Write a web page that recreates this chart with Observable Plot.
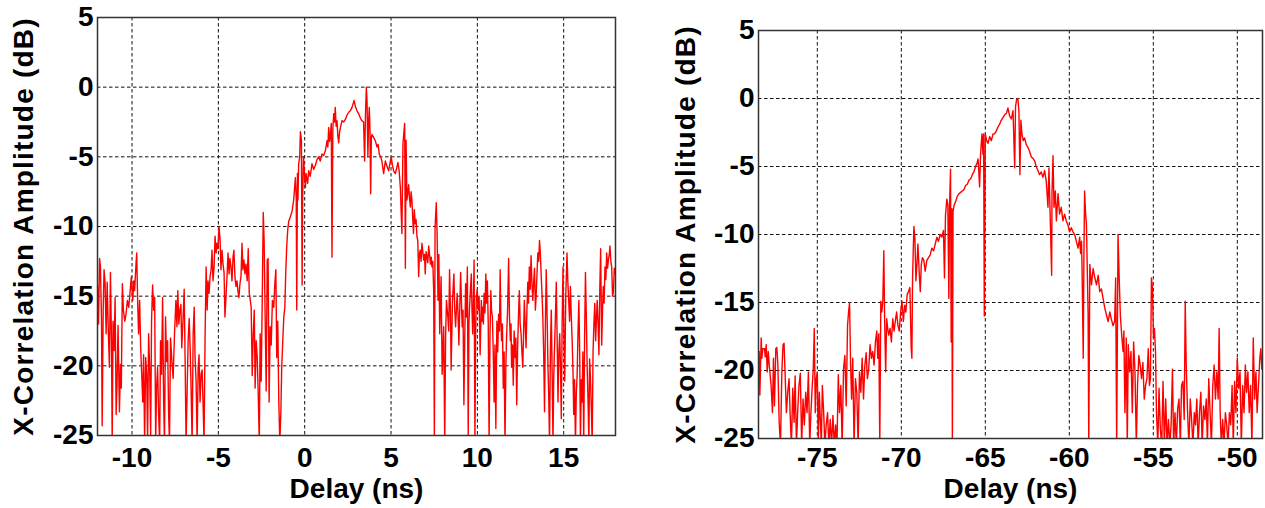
<!DOCTYPE html>
<html>
<head>
<meta charset="utf-8">
<script src="https://cdn.jsdelivr.net/npm/d3@7"></script>
<script src="https://cdn.jsdelivr.net/npm/@observablehq/plot@0.6"></script>
<style>
  html, body { margin: 0; padding: 0; background: #fff; }
  #wrap { position: relative; width: 1265px; height: 508px; overflow: hidden; }
  #left, #right { position: absolute; top: 0; }
  #left { left: 0; }
  #right { left: 632px; }
</style>
</head>
<body>
<div id="wrap"><div id="left"></div><div id="right"></div></div>
<script>
// ---------- data ----------
const yTicks = [-25, -20, -15, -10, -5, 0, 5];
const leftTicks = [-10, -5, 0, 5, 10, 15];
const rightTicks = [-75, -70, -65, -60, -55, -50];

const leftDelay = [-12.0,-11.94,-11.88,-11.83,-11.77,-11.73,-11.67,-11.62,-11.56,-11.5,-11.44,-11.38,-11.31,-11.25,-11.19,-11.15,-11.1,-11.04,-10.98,-10.92,-10.87,-10.81,-10.73,-10.67,-10.62,-10.56,-10.5,-10.42,-10.35,-10.27,-10.19,-10.12,-10.04,-9.96,-9.9,-9.85,-9.77,-9.73,-9.67,-9.62,-9.56,-9.5,-9.44,-9.38,-9.33,-9.27,-9.21,-9.15,-9.1,-9.04,-8.98,-8.92,-8.87,-8.81,-8.75,-8.69,-8.63,-8.58,-8.52,-8.46,-8.4,-8.35,-8.29,-8.23,-8.17,-8.12,-8.06,-8.0,-7.94,-7.88,-7.83,-7.77,-7.69,-7.62,-7.54,-7.46,-7.4,-7.35,-7.29,-7.23,-7.17,-7.12,-7.04,-6.98,-6.92,-6.87,-6.81,-6.75,-6.69,-6.63,-6.58,-6.52,-6.46,-6.4,-6.35,-6.29,-6.23,-6.17,-6.12,-6.06,-6.0,-5.94,-5.88,-5.83,-5.77,-5.71,-5.65,-5.6,-5.54,-5.48,-5.42,-5.37,-5.31,-5.25,-5.19,-5.13,-5.08,-5.02,-4.96,-4.9,-4.85,-4.79,-4.73,-4.67,-4.62,-4.56,-4.5,-4.44,-4.38,-4.33,-4.27,-4.21,-4.15,-4.1,-4.04,-3.98,-3.92,-3.87,-3.81,-3.75,-3.69,-3.63,-3.58,-3.52,-3.46,-3.4,-3.33,-3.27,-3.21,-3.15,-3.1,-3.04,-2.98,-2.92,-2.87,-2.81,-2.75,-2.69,-2.63,-2.58,-2.52,-2.46,-2.4,-2.35,-2.29,-2.23,-2.17,-2.12,-2.06,-2.0,-1.94,-1.87,-1.79,-1.73,-1.67,-1.62,-1.56,-1.5,-1.44,-1.38,-1.33,-1.27,-1.21,-1.15,-1.1,-1.04,-0.98,-0.92,-0.83,-0.73,-0.64,-0.54,-0.49,-0.46,-0.42,-0.39,-0.35,-0.29,-0.25,-0.19,-0.15,-0.12,-0.07,0.0,0.04,0.08,0.17,0.23,0.32,0.42,0.52,0.62,0.71,0.81,0.9,1.0,1.1,1.2,1.29,1.34,1.39,1.44,1.49,1.54,1.58,1.63,1.68,1.73,1.77,1.82,1.87,1.92,1.97,2.02,2.07,2.16,2.26,2.36,2.45,2.55,2.64,2.74,2.8,2.86,2.94,3.03,3.12,3.22,3.31,3.41,3.47,3.52,3.57,3.61,3.66,3.7,3.74,3.78,3.82,3.86,3.9,3.99,4.09,4.19,4.25,4.32,4.4,4.47,4.57,4.67,4.77,4.86,4.93,5.01,5.08,5.15,5.25,5.33,5.4,5.47,5.54,5.59,5.63,5.69,5.74,5.79,5.83,5.87,5.92,5.97,6.02,6.07,6.12,6.16,6.21,6.26,6.3,6.35,6.4,6.45,6.5,6.55,6.6,6.64,6.69,6.74,6.79,6.84,6.89,6.94,6.98,7.03,7.08,7.13,7.18,7.23,7.28,7.33,7.37,7.42,7.47,7.51,7.55,7.62,7.67,7.72,7.77,7.82,7.9,7.96,8.05,8.11,8.16,8.21,8.29,8.34,8.39,8.44,8.48,8.56,8.64,8.69,8.74,8.83,8.88,8.93,9.03,9.08,9.12,9.17,9.22,9.27,9.32,9.37,9.42,9.47,9.51,9.55,9.6,9.65,9.69,9.73,9.77,9.81,9.86,9.9,9.94,9.99,10.04,10.1,10.16,10.23,10.27,10.31,10.35,10.39,10.44,10.49,10.53,10.58,10.63,10.68,10.73,10.78,10.82,10.87,10.92,10.97,11.02,11.07,11.13,11.18,11.23,11.28,11.32,11.36,11.4,11.45,11.5,11.55,11.6,11.65,11.69,11.75,11.81,11.86,11.91,11.95,11.98,12.03,12.08,12.13,12.18,12.23,12.28,12.33,12.38,12.43,12.48,12.53,12.58,12.63,12.68,12.72,12.77,12.82,12.87,12.92,12.96,13.01,13.06,13.11,13.16,13.21,13.26,13.31,13.36,13.4,13.45,13.5,13.55,13.6,13.65,13.7,13.75,13.79,13.84,13.89,13.94,13.99,14.04,14.09,14.13,14.18,14.23,14.28,14.33,14.38,14.42,14.47,14.52,14.57,14.62,14.67,14.72,14.77,14.82,14.86,14.91,14.96,15.01,15.06,15.12,15.19,15.24,15.29,15.34,15.39,15.44,15.49,15.54,15.58,15.63,15.68,15.73,15.78,15.83,15.88,15.93,15.97,16.02,16.07,16.11,16.16,16.21,16.26,16.31,16.36,16.41,16.46,16.5,16.55,16.6,16.65,16.7,16.75,16.8,16.85,16.9,16.94,16.99,17.04,17.09,17.14,17.2,17.25,17.29,17.34,17.39,17.44,17.49,17.54,17.59,17.64,17.68,17.73,17.78,17.83,17.88,17.93,17.98];
const leftAmp = [-14.2,-17.0,-12.3,-12.9,-16.5,-24.3,-16.0,-13.1,-14.1,-17.7,-14.0,-17.2,-20.1,-13.3,-18.2,-25.5,-16.8,-18.9,-15.1,-23.5,-21.4,-17.1,-23.3,-19.9,-21.6,-14.1,-16.0,-16.8,-16.3,-15.3,-15.8,-14.8,-13.6,-15.3,-13.9,-14.6,-12.7,-11.9,-15.6,-17.7,-15.3,-18.7,-20.6,-22.6,-19.2,-25.5,-19.4,-20.6,-25.5,-17.7,-20.1,-25.0,-16.8,-14.2,-16.0,-15.1,-25.5,-21.6,-20.1,-23.5,-25.5,-18.2,-20.6,-15.1,-22.6,-25.5,-16.5,-19.7,-18.2,-23.5,-25.5,-18.0,-19.7,-20.9,-17.7,-15.3,-17.2,-14.6,-17.0,-16.0,-15.6,-18.7,-16.5,-14.5,-20.1,-25.5,-21.8,-18.2,-16.6,-18.9,-21.6,-25.5,-17.7,-15.8,-19.4,-21.1,-25.5,-20.1,-19.2,-22.6,-20.6,-20.3,-23.0,-25.5,-18.0,-12.9,-16.0,-13.9,-14.8,-13.6,-13.1,-11.7,-13.9,-12.9,-10.7,-11.9,-11.2,-11.6,-10.0,-11.0,-13.1,-11.7,-12.7,-13.3,-16.5,-15.1,-13.6,-11.9,-13.4,-12.3,-12.9,-13.9,-12.2,-11.7,-13.6,-14.3,-13.9,-14.6,-15.1,-14.1,-13.6,-11.2,-13.1,-12.4,-13.4,-12.7,-13.9,-11.6,-14.8,-15.3,-15.8,-20.7,-17.7,-16.0,-21.6,-18.2,-19.4,-22.1,-25.5,-17.7,-21.1,-15.3,-9.0,-11.0,-16.5,-21.8,-12.4,-12.3,-22.6,-17.2,-18.5,-15.3,-15.8,-14.1,-13.1,-19.4,-16.8,-22.6,-25.5,-23.3,-20.1,-18.2,-16.5,-15.8,-13.4,-11.4,-10.2,-9.6,-9.3,-8.9,-8.1,-6.5,-8.0,-16.0,-6.2,-8.1,-5.5,-5.0,-3.2,-3.8,-14.2,-7.9,-5.0,-6.5,-7.2,-6.2,-6.9,-6.0,-6.4,-5.5,-5.9,-5.6,-5.2,-5.0,-5.3,-4.8,-4.9,-4.55,-3.85,-4.3,-2.9,-3.9,-3.4,-2.6,-12.2,-3.0,-1.9,-2.5,-1.45,-2.8,-2.4,-3.5,-4.0,-3.2,-2.9,-2.4,-2.5,-2.3,-2.0,-1.8,-1.7,-1.45,-1.2,-0.96,-1.4,-1.7,-1.9,-2.2,-2.4,-2.5,-5.3,-2.0,0.0,-1.0,-5.0,-2.5,-1.45,-3.0,-7.65,-3.6,-3.4,-3.6,-3.85,-4.3,-4.1,-4.8,-5.0,-5.3,-6.2,-5.3,-5.7,-6.0,-5.5,-5.0,-5.6,-6.0,-6.2,-5.8,-5.4,-6.0,-7.2,-9.1,-10.5,-4.1,-3.3,-2.6,-13.0,-3.8,-8.1,-7.6,-7.0,-8.0,-8.6,-7.5,-8.1,-9.5,-10.5,-8.8,-9.8,-9.5,-10.7,-11.0,-13.6,-12.0,-11.7,-12.5,-11.2,-11.8,-12.4,-12.0,-13.4,-11.8,-12.2,-12.6,-11.4,-12.0,-12.7,-12.2,-12.9,-12.5,-14.6,-25.5,-10.1,-8.3,-10.5,-15.3,-12.0,-17.7,-13.6,-20.6,-17.2,-25.5,-18.0,-15.3,-16.5,-17.5,-13.1,-16.0,-20.3,-15.3,-13.4,-16.0,-17.2,-14.8,-16.2,-18.5,-13.3,-15.5,-17.2,-16.0,-22.8,-18.0,-14.1,-16.5,-12.9,-25.0,-17.0,-15.8,-14.5,-13.4,-16.0,-17.7,-15.5,-12.4,-25.5,-17.5,-15.1,-14.5,-16.0,-15.0,-19.2,-15.3,-16.8,-15.8,-17.0,-14.8,-16.2,-13.4,-15.5,-13.9,-17.0,-25.5,-18.0,-14.6,-16.0,-16.5,-19.0,-22.6,-18.5,-24.5,-16.8,-19.0,-16.3,-17.5,-13.1,-16.5,-18.2,-17.0,-21.6,-19.0,-25.5,-20.0,-18.0,-16.0,-12.3,-16.5,-18.2,-17.0,-20.1,-18.5,-21.4,-17.5,-19.4,-18.0,-22.8,-18.7,-16.5,-14.6,-17.0,-17.7,-19.0,-20.1,-17.5,-15.3,-17.0,-18.7,-16.0,-14.0,-15.5,-12.9,-14.5,-12.1,-14.0,-15.3,-14.0,-13.0,-16.0,-15.1,-13.5,-11.9,-12.5,-11.0,-12.0,-13.6,-15.0,-16.5,-19.0,-23.3,-17.0,-13.1,-16.5,-20.1,-22.0,-25.5,-19.0,-16.0,-20.5,-25.5,-21.0,-18.7,-16.5,-14.0,-18.0,-22.6,-19.0,-17.7,-20.5,-23.8,-17.0,-12.9,-17.5,-21.1,-15.0,-11.9,-14.0,-15.3,-16.8,-14.3,-16.5,-18.2,-20.5,-23.5,-21.0,-25.5,-22.0,-20.6,-17.5,-15.3,-19.5,-25.5,-21.0,-22.6,-19.0,-25.5,-18.0,-13.3,-16.5,-20.1,-22.5,-25.5,-19.5,-20.9,-23.0,-25.5,-19.0,-17.0,-15.5,-18.2,-16.5,-15.3,-17.0,-19.2,-14.5,-11.6,-18.5,-16.0,-14.3,-15.5,-12.9,-13.8,-11.9,-13.0,-12.4,-12.0,-11.4,-12.5,-12.9,-15.0,-14.7,-13.0,-13.4];

const rightDelay = [-78.46,-78.42,-78.34,-78.3,-78.24,-78.14,-78.1,-78.04,-77.98,-77.92,-77.86,-77.75,-77.67,-77.61,-77.55,-77.47,-77.41,-77.35,-77.27,-77.19,-77.11,-77.04,-76.98,-76.92,-76.84,-76.76,-76.68,-76.62,-76.54,-76.46,-76.38,-76.32,-76.24,-76.17,-76.09,-76.01,-75.93,-75.85,-75.77,-75.69,-75.61,-75.53,-75.45,-75.38,-75.3,-75.24,-75.18,-75.12,-75.06,-75.0,-74.94,-74.88,-74.82,-74.76,-74.7,-74.62,-74.55,-74.47,-74.39,-74.31,-74.23,-74.15,-74.07,-73.99,-73.91,-73.83,-73.75,-73.68,-73.6,-73.52,-73.44,-73.36,-73.28,-73.2,-73.14,-73.08,-73.02,-72.96,-72.89,-72.81,-72.73,-72.65,-72.57,-72.49,-72.41,-72.33,-72.25,-72.17,-72.09,-72.02,-71.94,-71.86,-71.78,-71.7,-71.62,-71.54,-71.46,-71.4,-71.34,-71.28,-71.22,-71.16,-71.1,-71.04,-70.99,-70.93,-70.87,-70.81,-70.75,-70.67,-70.59,-70.51,-70.43,-70.36,-70.28,-70.2,-70.12,-70.04,-69.96,-69.88,-69.8,-69.73,-69.65,-69.57,-69.49,-69.41,-69.37,-69.33,-69.25,-69.19,-69.13,-69.07,-69.01,-68.93,-68.87,-68.81,-68.74,-68.66,-68.58,-68.48,-68.38,-68.28,-68.18,-68.08,-67.98,-67.88,-67.79,-67.69,-67.59,-67.49,-67.43,-67.37,-67.29,-67.23,-67.17,-67.13,-67.07,-67.03,-66.99,-66.96,-66.92,-66.85,-66.77,-66.67,-66.57,-66.47,-66.37,-66.27,-66.17,-66.07,-65.97,-65.87,-65.77,-65.68,-65.58,-65.48,-65.43,-65.39,-65.34,-65.28,-65.2,-65.14,-65.1,-65.06,-65.0,-64.92,-64.84,-64.74,-64.64,-64.54,-64.45,-64.35,-64.25,-64.15,-64.05,-63.95,-63.85,-63.75,-63.65,-63.55,-63.45,-63.35,-63.25,-63.2,-63.14,-63.06,-63.0,-62.94,-62.88,-62.82,-62.74,-62.66,-62.56,-62.46,-62.36,-62.26,-62.16,-62.06,-61.97,-61.87,-61.77,-61.67,-61.57,-61.47,-61.37,-61.27,-61.21,-61.05,-61.03,-60.97,-60.91,-60.83,-60.77,-60.67,-60.58,-60.48,-60.38,-60.28,-60.18,-60.08,-59.98,-59.88,-59.78,-59.68,-59.58,-59.48,-59.38,-59.33,-59.27,-59.23,-59.17,-59.13,-59.09,-59.03,-58.98,-58.88,-58.84,-58.78,-58.68,-58.58,-58.48,-58.38,-58.28,-58.19,-58.09,-57.99,-57.89,-57.79,-57.69,-57.59,-57.5,-57.4,-57.3,-57.24,-57.18,-57.1,-57.03,-56.96,-56.88,-56.8,-56.75,-56.69,-56.61,-56.55,-56.49,-56.41,-56.33,-56.25,-56.17,-56.09,-56.01,-55.94,-55.86,-55.78,-55.7,-55.62,-55.54,-55.46,-55.38,-55.3,-55.23,-55.17,-55.11,-55.05,-54.99,-54.93,-54.87,-54.81,-54.73,-54.66,-54.58,-54.5,-54.42,-54.34,-54.26,-54.18,-54.1,-54.02,-53.94,-53.86,-53.79,-53.71,-53.63,-53.55,-53.47,-53.39,-53.32,-53.24,-53.16,-53.1,-53.04,-52.96,-52.88,-52.8,-52.72,-52.64,-52.56,-52.49,-52.41,-52.33,-52.25,-52.17,-52.09,-52.01,-51.93,-51.85,-51.78,-51.7,-51.62,-51.54,-51.46,-51.38,-51.3,-51.22,-51.14,-51.08,-51.02,-50.95,-50.87,-50.79,-50.71,-50.63,-50.55,-50.47,-50.39,-50.31,-50.24,-50.16,-50.08,-50.0,-49.92,-49.84,-49.76,-49.68,-49.6,-49.52,-49.45,-49.37,-49.29,-49.21,-49.13,-49.05,-48.97,-48.89,-48.82,-48.74,-48.66,-48.6,-48.54,-48.48];
const rightAmp = [-18.6,-21.8,-17.6,-19.1,-18.4,-18.4,-19.0,-18.1,-20.1,-18.6,-19.6,-21.1,-23.1,-19.1,-22.6,-18.4,-18.3,-19.5,-23.8,-25.5,-20.1,-18.1,-18.0,-20.1,-23.1,-21.6,-20.6,-23.1,-25.5,-21.3,-23.8,-20.4,-25.5,-23.1,-21.1,-20.2,-25.5,-22.1,-24.0,-21.6,-23.1,-20.1,-25.5,-23.1,-21.1,-19.9,-16.9,-23.1,-20.6,-20.1,-25.5,-21.6,-23.6,-25.5,-21.1,-23.1,-25.5,-24.0,-23.1,-25.5,-23.6,-25.5,-23.3,-25.5,-24.0,-25.5,-20.3,-23.1,-21.1,-25.5,-19.9,-18.9,-22.6,-16.7,-15.7,-15.0,-19.4,-22.1,-19.1,-25.5,-20.6,-21.6,-25.5,-20.1,-21.6,-19.1,-22.1,-19.6,-18.7,-20.6,-19.9,-18.1,-19.1,-18.6,-19.6,-17.9,-17.1,-19.1,-17.3,-25.5,-14.9,-15.7,-14.9,-11.2,-16.4,-20.1,-16.2,-16.9,-17.4,-16.9,-17.9,-16.2,-17.1,-16.4,-15.7,-16.7,-17.1,-15.7,-14.9,-16.4,-15.2,-15.7,-14.4,-14.2,-13.9,-18.4,-19.1,-13.2,-9.4,-10.3,-13.4,-12.2,-10.7,-12.9,-14.2,-12.2,-11.7,-11.9,-12.7,-11.9,-11.7,-11.5,-11.0,-11.2,-10.7,-10.2,-10.5,-10.0,-10.2,-9.7,-13.2,-8.6,-7.4,-7.8,-14.7,-8.0,-5.2,-17.9,-8.1,-26.0,-8.3,-7.8,-7.6,-7.2,-7.0,-6.9,-6.8,-6.7,-6.4,-6.3,-6.0,-5.9,-5.6,-5.4,-5.0,-4.7,-4.45,-5.3,-6.5,-4.1,-2.6,-4.1,-2.6,-16.0,-2.6,-3.1,-3.3,-2.8,-3.1,-2.6,-2.6,-2.4,-2.1,-1.9,-1.6,-1.4,-1.2,-1.1,-0.7,-1.3,-1.5,-0.9,-5.1,-0.6,-0.1,0.0,-0.9,-5.6,-1.6,-2.6,-3.1,-2.9,-3.4,-3.6,-3.9,-4.3,-4.4,-4.6,-5.0,-5.3,-5.6,-5.4,-5.8,-5.3,-6.1,-8.0,-5.1,-13.0,-7.0,-4.2,-8.0,-6.8,-9.0,-7.0,-8.5,-8.0,-9.0,-8.5,-9.0,-9.3,-9.8,-9.5,-9.8,-10.0,-10.5,-11.0,-10.2,-11.4,-10.5,-13.4,-19.1,-11.5,-6.8,-8.5,-9.2,-15.9,-25.5,-12.2,-13.7,-12.5,-13.2,-13.7,-13.0,-14.2,-14.0,-14.7,-15.4,-15.9,-16.4,-15.7,-16.2,-16.7,-16.4,-13.2,-25.5,-10.0,-13.2,-16.0,-17.4,-18.6,-17.1,-23.1,-17.6,-25.5,-18.1,-20.1,-18.6,-23.1,-17.9,-20.1,-25.5,-21.1,-18.9,-19.6,-20.6,-19.4,-22.1,-21.1,-20.6,-18.4,-21.1,-20.6,-13.2,-13.9,-17.6,-16.9,-18.6,-23.1,-25.5,-21.3,-24.3,-25.5,-20.8,-25.5,-22.1,-25.5,-23.6,-25.5,-24.0,-19.9,-25.5,-23.1,-25.5,-22.8,-22.1,-25.5,-21.1,-20.8,-23.6,-14.9,-19.6,-23.1,-25.5,-22.1,-23.6,-25.5,-23.1,-24.0,-22.1,-25.5,-23.1,-21.6,-25.5,-22.6,-23.6,-22.1,-25.5,-20.6,-23.1,-25.5,-21.1,-19.6,-22.1,-20.1,-22.1,-16.9,-23.1,-25.5,-23.6,-25.5,-23.1,-24.0,-25.5,-23.1,-24.0,-21.1,-25.5,-20.8,-23.1,-19.1,-21.3,-20.1,-25.5,-21.1,-23.1,-19.6,-21.6,-20.1,-23.1,-21.1,-25.5,-17.6,-22.1,-20.1,-23.1,-21.1,-19.1,-18.4,-19.9,-18.8];

// ---------- drawing ----------
const fmt = d => String(d);
function panel(delay, amp, xDomain, xTicks, m) {
  const rows = delay.map((d, i) => ({delay: d, amp: amp[i]}));
  return Plot.plot({
    width: m.width,
    height: 508,
    marginLeft: m.left,
    marginRight: m.right,
    marginTop: m.top,
    marginBottom: m.bottom,
    style: {
      fontFamily: "'Liberation Sans', Arial, Helvetica, sans-serif",
      fontSize: "28px",
      fontWeight: "bold",
      color: "#000",
      background: "#fff",
      overflow: "visible"
    },
    x: {domain: xDomain, ticks: xTicks, tickFormat: fmt, tickSize: 0, tickPadding: m.xPad,
        label: "Delay (ns)", labelAnchor: "center", labelOffset: m.xLab, labelArrow: "none"},
    y: {domain: [-25, 5], ticks: yTicks, tickFormat: fmt, tickSize: 0, tickPadding: 4,
        label: "X-Correlation Amplitude (dB)", labelAnchor: "center", labelOffset: m.yLab, labelArrow: "none"},
    marks: [
      Plot.gridX(xTicks, {stroke: "#111", strokeOpacity: 1, strokeWidth: 1, strokeDasharray: "3.5,2.5"}),
      Plot.gridY(yTicks, {stroke: "#111", strokeOpacity: 1, strokeWidth: 1, strokeDasharray: "3.5,2.5"}),
      Plot.line(rows, {x: "delay", y: "amp", stroke: "#ff0000", strokeWidth: 1.4, clip: true}),
      Plot.frame({stroke: "#333", strokeWidth: 1.5})
    ]
  });
}

document.getElementById("left").append(
  panel(leftDelay, leftAmp, [-12, 18], leftTicks,
        {width: 630, left: 97, right: 15, top: 17, bottom: 73, xPad: 12, xLab: 62, yLab: 84})
);
document.getElementById("right").append(
  panel(rightDelay, rightAmp, [-78.5, -48.5], rightTicks,
        {width: 633, left: 126, right: 3, top: 30, bottom: 70, xPad: 9, xLab: 59, yLab: 83})
);
// widen the rotated y label slightly, like the original's spacing
document.querySelectorAll('g[aria-label="y-axis label"] text').forEach(t => t.style.letterSpacing = "1.2px");
</script>
</body>
</html>
